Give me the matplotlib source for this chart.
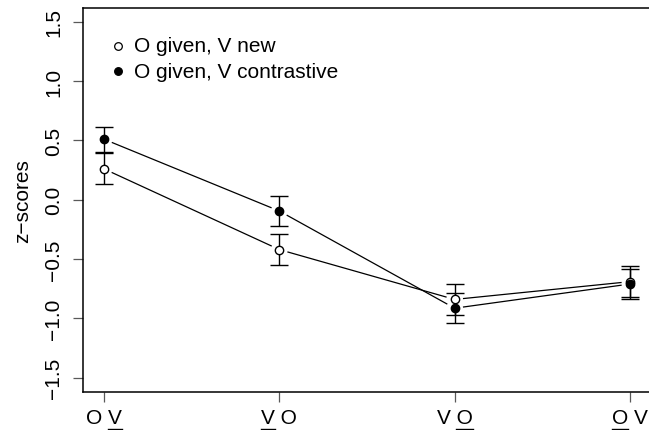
import numpy as np
import matplotlib
matplotlib.use("Agg")
import matplotlib.pyplot as plt
from matplotlib.lines import Line2D
from matplotlib.transforms import IdentityTransform

plt.rcParams['font.family'] = ['Liberation Sans', 'DejaVu Sans']

# orders on the x axis; which letter is underlined ('first' / 'last')
order_labels = ["O V", "V O", "V O", "O V"]
underlined = ["last", "first", "last", "first"]
xpos = [1, 2, 3, 4]

# O given, V new  (open circles)
new_mean = [0.26, -0.42, -0.84, -0.69]
new_se = [0.13, 0.13, 0.128, 0.13]

# O given, V contrastive  (filled circles)
con_mean = [0.51, -0.095, -0.914, -0.71]
con_se = [0.105, 0.124, 0.128, 0.127]

series_names = ["O given, V new", "O given, V contrastive"]

FS = 15

fig = plt.figure(figsize=(6.49, 4.31), dpi=100)
ax = fig.add_axes([83/649, 38/431, 568/649, 384.5/431])
ax.set_xlim(0.88, 4.12)
ax.set_ylim(-1.62, 1.62)


def gapped_line(x, y, gap=9):
    # R type="b": segments stop short of the points
    pts = ax.transData.transform(np.column_stack([x, y]))
    inv = ax.transData.inverted()
    for i in range(len(pts) - 1):
        p0, p1 = pts[i], pts[i + 1]
        d = p1 - p0
        u = d / np.hypot(*d)
        a = inv.transform(p0 + u * gap)
        b = inv.transform(p1 - u * gap)
        ax.plot([a[0], b[0]], [a[1], b[1]], color='black', lw=0.9)


for mean, se, face in [(new_mean, new_se, 'white'), (con_mean, con_se, 'black')]:
    ax.errorbar(xpos, mean, yerr=se, fmt='none', ecolor='black', elinewidth=1,
                capsize=6.5, capthick=1)
    gapped_line(xpos, mean)
    ax.plot(xpos, mean, 'o', ms=6, mfc=face, mec='black', mew=1, ls='none', zorder=5)

# legend (no box, like R)
for yy, face, name in [(0.9, 'white', series_names[0]), (0.834, 'black', series_names[1])]:
    ax.plot([0.062], [yy], 'o', ms=5.5, mfc=face, mec='black', mew=0.9,
            transform=ax.transAxes, clip_on=False)
    ax.text(0.089, yy, name, transform=ax.transAxes, va='center', ha='left', fontsize=FS)

ax.set_xticks(xpos)
ax.set_xticklabels(order_labels)
ax.set_yticks([-1.5, -1.0, -0.5, 0.0, 0.5, 1.0, 1.5])
ax.set_yticklabels(["\u22121.5", "\u22121.0", "\u22120.5", "0.0", "0.5", "1.0", "1.5"],
                   rotation=90, va='center')
ax.tick_params(axis='both', length=7.2, width=0.9, color='0.35', labelsize=FS)
ax.tick_params(axis='x', pad=4)
ax.tick_params(axis='y', pad=7)
ax.set_ylabel("z\u2212scores", fontsize=FS, labelpad=9)
for s in ax.spines.values():
    s.set_linewidth(1.1)

# underline one letter in each x tick label
fig.canvas.draw()
rend = fig.canvas.get_renderer()
for lab, which in zip(ax.get_xticklabels(), underlined):
    bb = lab.get_window_extent(rend)
    prop = lab.get_fontproperties()
    txt = lab.get_text()
    _, _, desc = rend.get_text_width_height_descent(txt, prop, ismath=False)
    letter = txt[-1] if which == "last" else txt[0]
    lw_, _, _ = rend.get_text_width_height_descent(letter, prop, ismath=False)
    if which == "last":
        x0, x1 = bb.x1 - lw_, bb.x1
    else:
        x0, x1 = bb.x0, bb.x0 + lw_
    ybase = bb.y0 + desc - 2.5
    fig.add_artist(Line2D([x0, x1], [ybase, ybase], color='black', lw=1.0,
                          transform=IdentityTransform()))

fig.savefig("out.png", dpi=100)
